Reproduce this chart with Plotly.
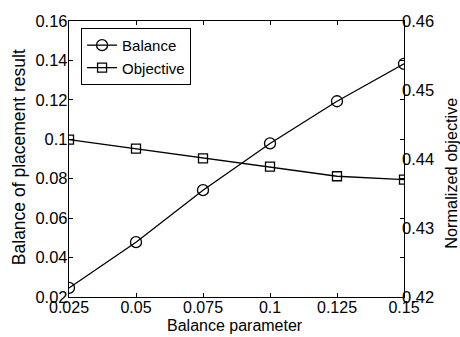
import plotly.graph_objects as go

x_vals = [0.025, 0.05, 0.075, 0.1, 0.125, 0.15]
balance = [0.0246, 0.0478, 0.0742, 0.0979, 0.1193, 0.1383]
objective = [0.4428, 0.4415, 0.4401, 0.4389, 0.4375, 0.4370]
x_ticks = [0.025, 0.05, 0.075, 0.1, 0.125, 0.15]
x_ticklabels = ["0.025", "0.05", "0.075", "0.1", "0.125", "0.15"]
left_ticks = [0.02, 0.04, 0.06, 0.08, 0.1, 0.12, 0.14, 0.16]
left_ticklabels = ["0.02", "0.04", "0.06", "0.08", "0.1", "0.12", "0.14", "0.16"]
right_ticks = [0.42, 0.43, 0.44, 0.45, 0.46]
right_ticklabels = ["0.42", "0.43", "0.44", "0.45", "0.46"]

font = "Liberation Sans, Arial, Helvetica, sans-serif"

fig = go.Figure()
fig.add_trace(go.Scatter(
    x=x_vals, y=balance, name="Balance", mode="lines+markers",
    line=dict(color="black", width=1.3),
    marker=dict(symbol="circle-open", size=11, color="black", line=dict(width=1.3)),
    yaxis="y"))
fig.add_trace(go.Scatter(
    x=x_vals, y=objective, name="Objective", mode="lines+markers",
    line=dict(color="black", width=1.3),
    marker=dict(symbol="square-open", size=9, color="black", line=dict(width=1.3)),
    yaxis="y2"))

fig.update_layout(
    width=460, height=337,
    margin=dict(l=69, r=56, t=15, b=40),
    paper_bgcolor="white", plot_bgcolor="white",
    font=dict(family=font, size=16, color="black"),
    showlegend=True,
    legend=dict(x=0.036, y=0.975, xanchor="left", yanchor="top",
                bordercolor="black", borderwidth=1, bgcolor="white",
                font=dict(size=15), tracegroupgap=0, itemwidth=30),
    xaxis=dict(range=[0.025, 0.15], tickvals=x_ticks, ticktext=x_ticklabels,
               ticks="inside", ticklen=4, tickcolor="black", tickwidth=1,
               showline=True, linecolor="black", linewidth=1.3, mirror="ticks",
               showgrid=False, zeroline=False, ticklabelstandoff=-4,
               tickfont=dict(size=16)),
    yaxis=dict(range=[0.02, 0.16], tickvals=left_ticks, ticktext=left_ticklabels,
               ticks="inside", ticklen=4, tickcolor="black", tickwidth=1,
               showline=True, linecolor="black", linewidth=1.3, mirror="ticks",
               showgrid=False, zeroline=False, ticklabelstandoff=-3,
               tickfont=dict(size=16.5)),
    yaxis2=dict(range=[0.42, 0.46], tickvals=right_ticks, ticktext=right_ticklabels,
                overlaying="y", side="right", ticks="",
                showline=False, showgrid=False, zeroline=False, ticklabelstandoff=-3,
                tickfont=dict(size=16.5)),
    annotations=[
        dict(text="Balance parameter", xref="paper", yref="paper",
             x=0.497, y=-0.104, xanchor="center", yanchor="middle",
             showarrow=False, font=dict(size=16)),
        dict(text="Balance of placement result", xref="paper", yref="paper",
             x=-0.149, y=0.507, xanchor="center", yanchor="middle", textangle=-90,
             showarrow=False, font=dict(size=17.5)),
        dict(text="Normalized objective", xref="paper", yref="paper",
             x=1.140, y=0.450, xanchor="center", yanchor="middle", textangle=-90,
             showarrow=False, font=dict(size=16.3)),
    ],
)

fig.write_html("out.html")
